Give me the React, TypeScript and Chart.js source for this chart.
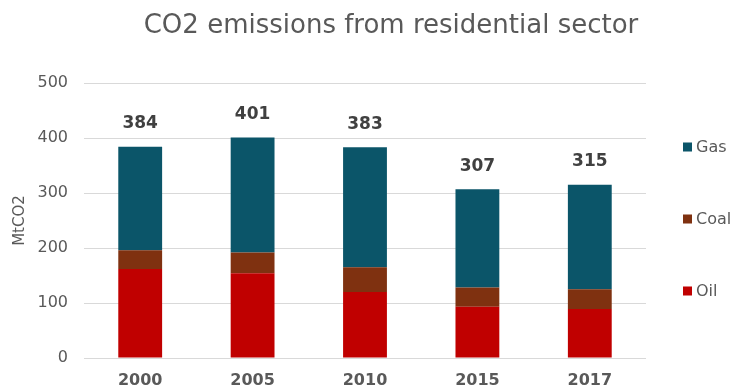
import React, { useEffect, useRef } from "react";
import { Chart, registerables } from "chart.js";

Chart.register(...registerables);

const years = ["2000", "2005", "2010", "2015", "2017"];
const oil = [162, 154, 120, 93, 89];
const coal = [34, 38, 45, 35, 36];
const gas = [188, 209, 218, 179, 190];
const totals = [384, 401, 383, 307, 315];
const yTicks = [0, 100, 200, 300, 400, 500];

const titleText = "CO2 emissions from residential sector";
const yTitle = "MtCO2";
const FONT = "'DejaVu Sans', Verdana, sans-serif";
const GREY = "#595959";

export default function App() {
  const ref = useRef<HTMLCanvasElement>(null);
  useEffect(() => {
    document.body.style.margin = "0";
    const canvas = ref.current!;
    const overlay = {
      id: "overlay",
      afterDraw(chart: any) {
        const ctx = chart.ctx;
        const area = chart.chartArea;
        const ys = chart.scales.y;
        const xs = chart.scales.x;
        ctx.save();
        // title
        ctx.fillStyle = GREY;
        ctx.font = `26px ${FONT}`;
        ctx.textAlign = "center";
        ctx.textBaseline = "alphabetic";
        ctx.fillText(titleText, 391, 33);
        // totals
        ctx.fillStyle = "#404040";
        ctx.font = `bold 17px ${FONT}`;
        ctx.textBaseline = "middle";
        totals.forEach((t, i) => {
          ctx.fillText(String(t), xs.getPixelForValue(i), ys.getPixelForValue(t) - 23);
        });
        // legend
        const items = chart.data.datasets.map((d: any) => ({ label: d.label, color: d.backgroundColor })).reverse();
        const cy = (area.top + area.bottom) / 2;
        const gap = 72;
        ctx.font = `16px ${FONT}`;
        ctx.textAlign = "left";
        items.forEach((it: any, k: number) => {
          const y = cy + (k - 1) * gap - 2;
          ctx.fillStyle = it.color;
          ctx.fillRect(683, y - 4, 9, 9);
          ctx.fillStyle = GREY;
          ctx.fillText(it.label, 696, y + 1);
        });
        ctx.restore();
      },
    };
    const chart = new Chart(canvas, {
      type: "bar",
      data: {
        labels: years,
        datasets: [
          { label: "Oil", data: oil, backgroundColor: "#C00000" },
          { label: "Coal", data: coal, backgroundColor: "#7F3110" },
          { label: "Gas", data: gas, backgroundColor: "#0B5569" },
        ],
      },
      options: {
        animation: false,
        responsive: false,
        maintainAspectRatio: false,
        layout: { padding: { left: 0, right: 87, top: 83, bottom: 0 } },
        datasets: { bar: { barPercentage: 0.39, categoryPercentage: 1, borderWidth: 0 } },
        plugins: { legend: { display: false }, title: { display: false }, tooltip: { enabled: false } },
        scales: {
          x: {
            stacked: true,
            grid: { display: false, drawTicks: false },
            border: { display: false },
            ticks: { color: GREY, font: { family: FONT, size: 16, weight: "bold" }, padding: 13 },
            afterFit(s: any) { s.height = 29; },
          },
          y: {
            stacked: true,
            min: 0,
            max: 500,
            afterBuildTicks(s: any) { s.ticks = yTicks.map((v) => ({ value: v })); },
            grid: { color: "#d9d9d9", lineWidth: 1, drawTicks: false },
            border: { display: false },
            ticks: { color: GREY, font: { family: FONT, size: 16 }, padding: 16 },
            title: { display: true, text: yTitle, color: GREY, font: { family: FONT, size: 15 }, padding: { top: 11, bottom: 0 } },
            afterFit(s: any) { s.width = 84; },
          },
        },
      },
      plugins: [overlay],
    } as any);
    return () => chart.destroy();
  }, []);
  return (
    <div style={{ width: 733, height: 387 }}>
      <canvas ref={ref} width={733} height={387} style={{ display: "block" }} />
    </div>
  );
}
